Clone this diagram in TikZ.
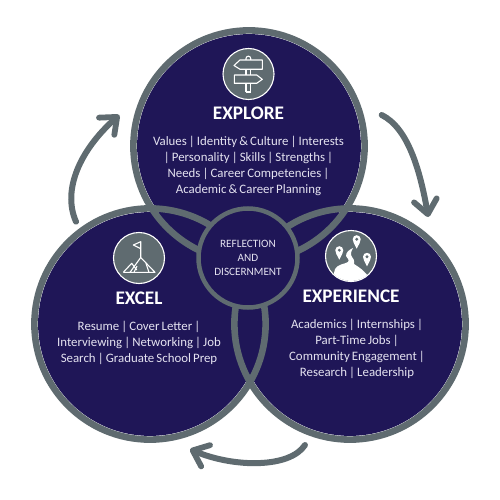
\documentclass[tikz,border=0pt]{standalone}
\usepackage{fontspec}
\setmainfont{Carlito}[WordSpace=0.72]
\usetikzlibrary{arrows.meta,calc,positioning}
\definecolor{RingGray}{HTML}{5F6B70}
\definecolor{DeepNavy}{HTML}{1F1657}
\definecolor{SoftText}{HTML}{E4E2F0}
\tikzset{
  bodytext/.style={text=SoftText, align=center, inner sep=0pt, font=\fontsize{12.85}{16}\selectfont},
  headtext/.style={text=white, inner sep=0pt, font=\fontsize{19.2}{20}\selectfont\bfseries},
  corebox/.style={circle, draw=RingGray, fill=DeepNavy, line width=4.5pt, minimum size=99pt, inner sep=0pt, align=center, text=SoftText, font=\fontsize{11.2}{14}\selectfont},
  iconbox/.style={circle, draw=white, fill=RingGray, line width=1.1pt, minimum size=51pt, inner sep=0pt},
  iconline/.style={draw=white, line width=1.1pt, line join=round},
  turnarrow/.style={draw=RingGray, line width=6pt, line cap=round, -{Straight Barb[length=14pt,width=23pt,line width=5.8pt,round]}}
}
\begin{document}
\begin{tikzpicture}[x=1pt,y=-1pt]
  \useasboundingbox (0,0) rectangle (500,500);
  \coordinate (explore) at (249,146);
  \coordinate (excel) at (150,324);
  \coordinate (experience) at (350,324);
  % discs, then rings over them
  \foreach \c in {explore,excel,experience} \fill[white] (\c) circle (112.9pt);
  \foreach \c in {explore,excel,experience} \fill[DeepNavy] (\c) circle (111.9pt);
  \foreach \c in {explore,excel,experience} \draw[RingGray, line width=6.6pt] (\c) circle (115.6pt);
  \node[corebox] (core) at (248,258) {REFLECTION\\AND\\DISCERNMENT};

  \node[iconbox] (exploreicon) at (248.5,74) {};
  \node[headtext] (exploretitle) at (248.5,113) {EXPLORE};
  \node[bodytext, below=16pt of exploretitle] (exploretext) {Values | Identity \& Culture | Interests\\| Personality | Skills | Strengths |\\Needs | Career Competencies |\\Academic \& Career Planning};
  \node[iconbox] (excelicon) at (139,258) {};
  \node[headtext] (exceltitle) at (139,298) {EXCEL};
  \node[bodytext, below=16pt of exceltitle] (exceltext) {Resume | Cover Letter |\\Interviewing | Networking | Job\\Search | Graduate School Prep};
  \node[iconbox] (experienceicon) at (351,256) {};
  \node[headtext] (experiencetitle) at (351,296) {EXPERIENCE};
  \node[bodytext, below=16pt of experiencetitle, xshift=6pt] (experiencetext) {Academics | Internships |\\Part-Time Jobs |\\Community Engagement |\\Research | Leadership};

  % signpost
  \draw[iconline] (246,92) -- (246,83.5) (250.7,92) -- (250.7,83.5) (246,92) -- (250.7,92);
  \draw[iconline] (246,75) -- (246,69.5) (250.7,75) -- (250.7,69.5);
  \draw[iconline] (246,60) -- (246,58.5) arc (180:0:2.35pt) -- (250.7,60);
  \draw[iconline] (234,65.5) -- (240,60) -- (262.3,60) -- (262.3,69.3) -- (240,69.3) -- cycle;
  \draw[iconline] (234.3,75) -- (256.7,75) -- (262.3,79.3) -- (256.7,83.3) -- (234.3,83.3) -- cycle;
  % flag and peaks
  \draw[iconline] (140.7,257.5) -- (140.7,241.7) -- (133.3,245) -- (140.7,248.7);
  \draw[iconline] (123.3,272.3) -- (131.7,263.3) -- (136.7,270);
  \draw[iconline] (130,272.3) -- (140.7,257.5) -- (155,272.3) -- (123.3,272.3);
  \draw[iconline] (146,263.5) -- (149,272.3) (134,272.3) -- (137,266);
  % road and pins
  \begin{scope}
    \clip (experienceicon) circle (25pt);
    \fill[white] (330,290) -- (335,269) .. controls (338,264) and (345,264) .. (348,262)
      .. controls (350,260) and (347,258) .. (346,256) .. controls (346,252) and (349,250) .. (353,248)
      .. controls (351,252) and (350,254) .. (352,257) .. controls (355,260) and (354,263) .. (354,264)
      .. controls (360,268) and (368,272) .. (376,290) -- cycle;
  \end{scope}
  \foreach \px/\py in {339.3/251.7,356.7/240.7,367/258.3} {
    \fill[white] (\px,\py+8) .. controls (\px-2.5,\py+3) and (\px-4,\py+1) .. (\px-4,\py-1.5)
      arc (180:0:4pt) .. controls (\px+4,\py+1) and (\px+2.5,\py+3) .. (\px,\py+8);
    \fill[RingGray] (\px,\py-1.5) circle (1.6pt);
  }

  \coordinate (exploreout) at (381.7,115);
  \coordinate (experiencein) at (428.3,217);
  \coordinate (experienceout) at (305,445);
  \coordinate (excelin) at (190,449.3);
  \coordinate (excelout) at (76,221.7);
  \coordinate (explorein) at (119.3,115);
  \draw[turnarrow] (exploreout) .. controls (408,128) and (420,170) .. (experiencein);
  \draw[turnarrow] (experienceout) .. controls (290,468) and (235,468) .. (excelin);
  \draw[turnarrow] (excelout) .. controls (62,190) and (80,150) .. (explorein);
\end{tikzpicture}
\end{document}
